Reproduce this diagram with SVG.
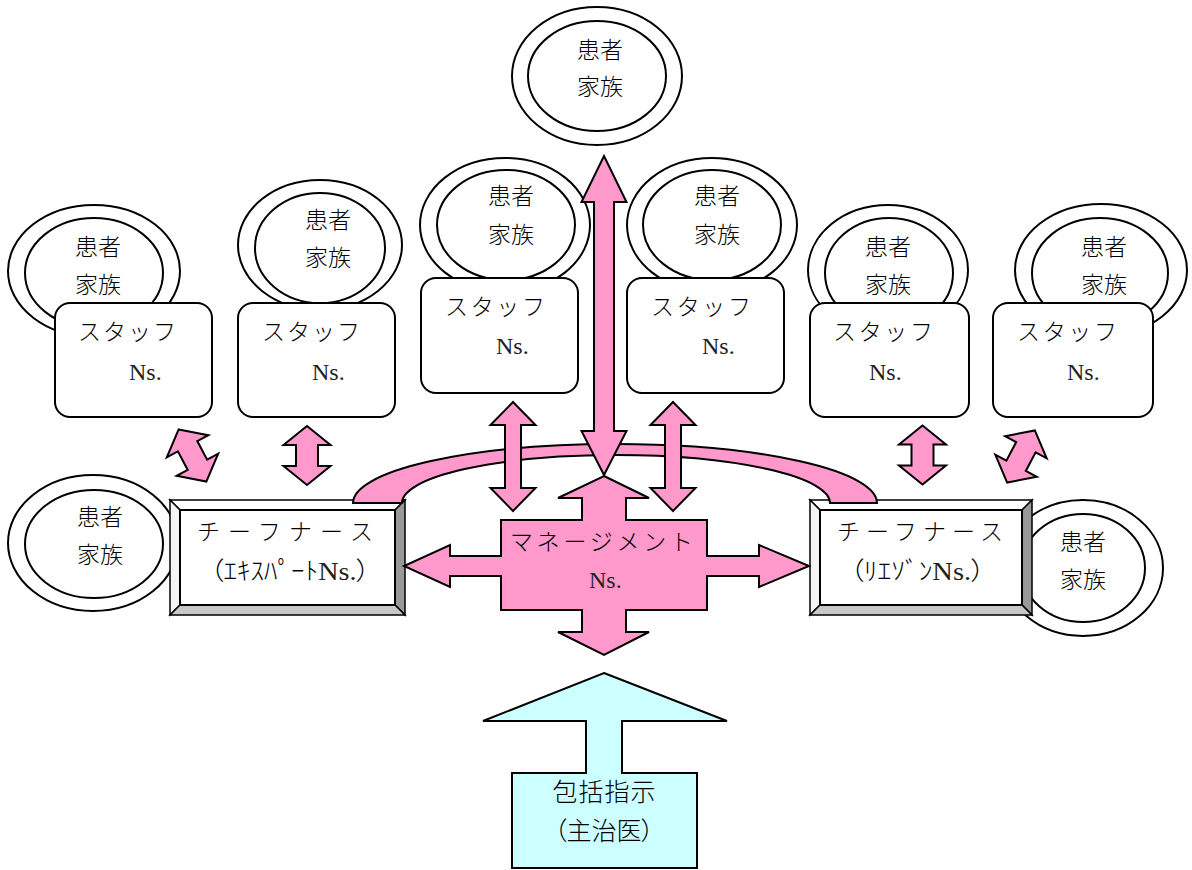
<svg xmlns="http://www.w3.org/2000/svg" xmlns:xlink="http://www.w3.org/1999/xlink" width="1192" height="870" viewBox="0 0 1192 870">
  <style>
    .ring { fill: #fff; stroke: #000; stroke-width: 2; }
    .staff { fill: #fff; stroke: #000; stroke-width: 2; }
    .pink { fill: #ff99cc; stroke: #000; stroke-width: 2; stroke-linejoin: miter; }
    .cyan { fill: #ccffff; stroke: #000; stroke-width: 2; }
    .edge { stroke: #000; stroke-width: 1.5; stroke-linejoin: miter; }
    .goth { font-family: "Noto Sans CJK JP", "Noto Sans", sans-serif; font-size: 23px; font-weight: 300; fill: #000; text-anchor: middle; }
    .kana { font-family: "Noto Sans CJK JP", sans-serif; font-size: 23px; font-weight: 300; fill: #000; }
    .ns { font-family: "Liberation Serif", serif; font-size: 24px; font-weight: normal; fill: #222; }
    .palt { font-feature-settings: "palt"; }
  </style>
  <defs>
    <!-- short double-headed arrow, centred on the origin -->
    <path id="dbl" d="M0,-29.5 L23.5,-10.5 L11,-10.5 L11,10.5 L23.5,10.5 L0,29.5 L-23.5,10.5 L-11,10.5 L-11,-10.5 L-23.5,-10.5 Z"/>
  </defs>

  <!-- patient / family rings -->
  <g id="family-top">
    <ellipse class="ring" cx="597" cy="76" rx="85" ry="69"/>
    <ellipse class="ring" cx="597" cy="76" rx="69" ry="55"/>
    <text class="goth" x="600" y="58">患者</text>
    <text class="goth" x="600" y="95">家族</text>
  </g>
  <g id="family-1">
    <ellipse class="ring" cx="94" cy="271" rx="86" ry="66"/>
    <ellipse class="ring" cx="94" cy="273" rx="69" ry="55"/>
    <text class="goth" x="98" y="255">患者</text>
    <text class="goth" x="98" y="293">家族</text>
  </g>
  <g id="family-2">
    <ellipse class="ring" cx="320" cy="245" rx="82" ry="65"/>
    <ellipse class="ring" cx="320" cy="248" rx="65" ry="55"/>
    <text class="goth" x="328" y="228">患者</text>
    <text class="goth" x="328" y="266">家族</text>
  </g>
  <g id="family-3">
    <ellipse class="ring" cx="505" cy="225" rx="85" ry="67"/>
    <ellipse class="ring" cx="506" cy="225" rx="69" ry="55"/>
    <text class="goth" x="511" y="204">患者</text>
    <text class="goth" x="511" y="243">家族</text>
  </g>
  <g id="family-4">
    <ellipse class="ring" cx="712" cy="225" rx="85" ry="67"/>
    <ellipse class="ring" cx="712" cy="225" rx="69" ry="55"/>
    <text class="goth" x="717" y="204">患者</text>
    <text class="goth" x="717" y="243">家族</text>
  </g>
  <g id="family-5">
    <ellipse class="ring" cx="888" cy="270" rx="80" ry="65"/>
    <ellipse class="ring" cx="889" cy="273" rx="64" ry="55"/>
    <text class="goth" x="888" y="255">患者</text>
    <text class="goth" x="888" y="293">家族</text>
  </g>
  <g id="family-6">
    <ellipse class="ring" cx="1101" cy="270" rx="86" ry="66"/>
    <ellipse class="ring" cx="1100" cy="273" rx="68" ry="55"/>
    <text class="goth" x="1104" y="255">患者</text>
    <text class="goth" x="1104" y="293">家族</text>
  </g>
  <g id="family-7">
    <ellipse class="ring" cx="93" cy="543" rx="85" ry="68"/>
    <ellipse class="ring" cx="94" cy="544" rx="69" ry="54"/>
    <text class="goth" x="100" y="525">患者</text>
    <text class="goth" x="100" y="563">家族</text>
  </g>
  <g id="family-8">
    <ellipse class="ring" cx="1083" cy="568" rx="80" ry="68"/>
    <ellipse class="ring" cx="1083" cy="568" rx="62" ry="54"/>
    <text class="goth" x="1083" y="550">患者</text>
    <text class="goth" x="1083" y="588">家族</text>
  </g>

  <!-- staff nurses -->
  <g id="staff-1">
    <rect class="staff" x="55" y="303" width="157" height="114" rx="15"/>
    <text class="kana" x="78" y="340" textLength="98" lengthAdjust="spacing">スタッフ</text>
    <text class="ns" x="129" y="380">Ns.</text>
  </g>
  <g id="staff-2">
    <rect class="staff" x="238" y="303" width="157" height="114" rx="15"/>
    <text class="kana" x="262" y="340" textLength="98" lengthAdjust="spacing">スタッフ</text>
    <text class="ns" x="312" y="380">Ns.</text>
  </g>
  <g id="staff-3">
    <rect class="staff" x="421" y="278" width="157" height="115" rx="15"/>
    <text class="kana" x="445" y="315" textLength="100" lengthAdjust="spacing">スタッフ</text>
    <text class="ns" x="496" y="354">Ns.</text>
  </g>
  <g id="staff-4">
    <rect class="staff" x="627" y="278" width="157" height="115" rx="15"/>
    <text class="kana" x="651" y="315" textLength="100" lengthAdjust="spacing">スタッフ</text>
    <text class="ns" x="702" y="354">Ns.</text>
  </g>
  <g id="staff-5">
    <rect class="staff" x="810" y="303" width="159" height="114" rx="15"/>
    <text class="kana" x="833" y="340" textLength="100" lengthAdjust="spacing">スタッフ</text>
    <text class="ns" x="869" y="380">Ns.</text>
  </g>
  <g id="staff-6">
    <rect class="staff" x="993" y="303" width="160" height="114" rx="15"/>
    <text class="kana" x="1017" y="340" textLength="100" lengthAdjust="spacing">スタッフ</text>
    <text class="ns" x="1067" y="380">Ns.</text>
  </g>

  <!-- chief nurses: bevelled frames -->
  <g id="chief-expert">
    <polygon class="edge" fill="#ffffff" points="170,500 405,500 395,510 180,510"/>
    <polygon class="edge" fill="#f4f4f4" points="170,500 180,510 180,605 170,615"/>
    <polygon class="edge" fill="#999999" points="405,500 405,615 395,605 395,510"/>
    <polygon class="edge" fill="#c8c8c8" points="170,615 180,605 395,605 405,615"/>
    <rect x="180" y="510" width="215" height="95" fill="#fff" stroke="#000" stroke-width="2"/>
    <text class="kana" x="197" y="540" textLength="176" lengthAdjust="spacing">チーフナース</text>
    <text class="kana palt" x="210" y="580" style="font-size:25px" textLength="160" lengthAdjust="spacingAndGlyphs"><tspan>（ｴｷｽﾊﾟｰﾄ</tspan><tspan class="ns" style="font-size:26px">Ns.</tspan><tspan>）</tspan></text>
  </g>
  <g id="chief-liaison">
    <polygon class="edge" fill="#ffffff" points="810,500 1032,500 1022,510 820,510"/>
    <polygon class="edge" fill="#f4f4f4" points="810,500 820,510 820,605 810,615"/>
    <polygon class="edge" fill="#999999" points="1032,500 1032,615 1022,605 1022,510"/>
    <polygon class="edge" fill="#c8c8c8" points="810,615 820,605 1022,605 1032,615"/>
    <rect x="820" y="510" width="202" height="95" fill="#fff" stroke="#000" stroke-width="2"/>
    <text class="kana" x="837" y="540" textLength="166" lengthAdjust="spacing">チーフナース</text>
    <text class="kana palt" x="850" y="580" style="font-size:25px" textLength="135" lengthAdjust="spacingAndGlyphs"><tspan>（ﾘｴｿﾞﾝ</tspan><tspan class="ns" style="font-size:26px">Ns.</tspan><tspan>）</tspan></text>
  </g>

  <!-- connectors -->
  <g id="connectors">
    <!-- arch joining the two chief nurses -->
    <path class="pink" d="M353,503 A262,59 0 0 1 877,503 L830,503 A214,48 0 0 0 402,503 Z"/>
    <!-- management to top family -->
    <path class="pink" d="M604,156 L626.5,202 L614,202 L614,431 L626.5,431 L604,475 L581.5,431 L594,431 L594,202 L581.5,202 Z"/>
    <!-- staff 3 and 4 to management -->
    <path class="pink" d="M513,402 L535.5,425 L521,425 L521,488 L535.5,488 L513,511 L490.5,488 L505,488 L505,425 L490.5,425 Z"/>
    <path class="pink" d="M673,402 L695.5,425 L681,425 L681,488 L695.5,488 L673,511 L650.5,488 L665,488 L665,425 L650.5,425 Z"/>
    <!-- staff to chief nurses -->
    <use xlink:href="#dbl" class="pink" transform="translate(192.5,455.5) rotate(-28)"/>
    <use xlink:href="#dbl" class="pink" transform="translate(307,455.5)"/>
    <use xlink:href="#dbl" class="pink" transform="translate(922.5,455)"/>
    <use xlink:href="#dbl" class="pink" transform="translate(1021,456.5) rotate(28)"/>
  </g>

  <!-- management nurse: four-way cross -->
  <g id="management">
    <polygon class="pink" points="604,476 649,498 626,498 626,520 707,520 707,556 759,556 759,545 809,566 759,587 759,576 707,576 707,610 626,610 626,632 649,632 604,655 558,632 582,632 582,610 501,610 501,576 450,576 450,587 404,566 450,545 450,556 501,556 501,520 582,520 582,498 558,498"/>
    <text class="kana" x="510" y="550" textLength="183" lengthAdjust="spacing">マネージメント</text>
    <text class="ns" x="589" y="588">Ns.</text>
  </g>

  <!-- attending physician: house-shaped block -->
  <g id="physician">
    <polygon class="cyan" points="604,673 727,721 622,721 622,773 697,773 697,868 512,868 512,773 586,773 586,721 483,721"/>
    <text class="goth" x="604" y="801" style="font-size:25px" textLength="103" lengthAdjust="spacing">包括指示</text>
    <text class="goth palt" x="604" y="840" style="font-size:25px">（主治医）</text>
  </g>
</svg>
